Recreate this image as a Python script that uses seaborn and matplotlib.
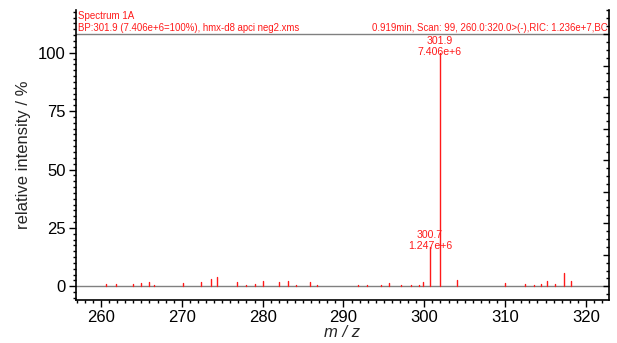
import numpy as np
import pandas as pd
import matplotlib
matplotlib.use("Agg")
import matplotlib.pyplot as plt
from matplotlib.ticker import MultipleLocator, NullFormatter
import seaborn as sns

# Centroided peaks: m/z and relative intensity (% of base peak)
mz = [260.6, 261.8, 262.9, 263.9, 265.0, 265.9, 266.6, 270.1, 271.2, 272.4,
      273.6, 274.3, 276.8, 278.0, 279.1, 280.0, 282.0, 283.1, 284.1, 285.8,
      286.7, 289.2, 291.8, 292.9, 294.7, 295.6, 297.1, 298.3, 299.3, 299.9,
      300.7, 301.9, 304.1, 307.1, 308.3, 310.0, 311.2, 312.4, 313.6, 314.5,
      315.2, 316.2, 317.3, 318.1]
rel = [1.0, 1.1, 0.3, 1.0, 1.3, 1.7, 0.5, 1.6, 0.3, 2.0,
       3.0, 4.2, 1.7, 0.7, 0.8, 2.3, 1.7, 2.3, 0.4, 2.0,
       0.7, 0.2, 0.4, 0.5, 0.6, 1.4, 0.6, 0.6, 0.6, 1.7,
       16.84, 100.0, 2.6, 0.3, 0.3, 1.6, 0.2, 0.9, 0.6, 0.9,
       2.4, 1.1, 5.5, 2.2]

# Labelled peaks
label_mz = [300.7, 301.9]
label_rel = [16.84, 100.0]
label_abs = ["1.247e+6", "7.406e+6"]

base_abs = 7.406e6
header_left = ["Spectrum 1A", "BP:301.9 (7.406e+6=100%), hmx-d8 apci neg2.xms"]
header_right = "0.919min, Scan: 99, 260.0:320.0>(-),RIC: 1.236e+7,BC"

x_ticks = [260, 270, 280, 290, 300, 310, 320]
y_ticks = [0, 25, 50, 75, 100]

RED = "#ff1a1a"
GRAY = "#808080"

sns.set_theme(style="ticks")
plt.rcParams["font.family"] = ["Liberation Sans", "DejaVu Sans"]

# Each stick is a two-point line from the baseline to its intensity
peaks = pd.DataFrame({
    "peak": np.repeat(np.arange(len(mz)), 2),
    "mz": np.repeat(mz, 2),
    "rel": np.ravel([[0.0, r] for r in rel]),
})

fig = plt.figure(figsize=(6.17, 3.43), dpi=100)
ax = fig.add_axes([0.1224, 0.125, 0.8646, 0.846])

sns.lineplot(data=peaks, x="mz", y="rel", units="peak", estimator=None,
             sort=False, color=RED, lw=1.0, ax=ax, legend=False)

ax.set_xlim(256.85, 322.85)
ax.set_ylim(-5.9, 118.3)

ax.axhline(0, color=GRAY, lw=1.0, zorder=0)
ax.axhline(108.0, color=GRAY, lw=1.0, zorder=0)

for x, r, a in zip(label_mz, label_rel, label_abs):
    ax.annotate(a, xy=(x, r), xytext=(0, 1), textcoords="offset pixels",
                ha="center", va="center", color=RED, fontsize=7.6)
    ax.annotate(f"{x:.1f}", xy=(x, r), xytext=(0, 12), textcoords="offset pixels",
                ha="center", va="center", color=RED, fontsize=7.6)

ax.text(0.004, 114.3, header_left[0], transform=ax.get_yaxis_transform(),
        ha="left", va="baseline", color=RED, fontsize=7.0)
ax.text(0.004, 109.3, header_left[1], transform=ax.get_yaxis_transform(),
        ha="left", va="baseline", color=RED, fontsize=6.9)
ax.text(0.997, 109.3, header_right, transform=ax.get_yaxis_transform(),
        ha="right", va="baseline", color=RED, fontsize=6.9)

ax.set_xticks(x_ticks)
ax.set_yticks(y_ticks)
ax.xaxis.set_minor_locator(MultipleLocator(1))
ax.yaxis.set_minor_locator(MultipleLocator(2.5))
ax.tick_params(axis="both", which="major", direction="out", length=5, width=1,
               labelsize=12, color="black", labelcolor="black", pad=2)
ax.tick_params(axis="both", which="minor", direction="out", length=2.5, width=1,
               color="black")

ax.set_xlabel("m / z", fontsize=12, style="italic", labelpad=0)
ax.set_ylabel("relative intensity / %", fontsize=12, labelpad=5)

for side in ["left", "bottom", "right"]:
    ax.spines[side].set_color("black")
    ax.spines[side].set_linewidth(1.2)
ax.spines["top"].set_visible(False)

# Absolute-intensity scale on the right spine (ticks only)
ax2 = ax.twinx()
lo, hi = ax.get_ylim()
ax2.set_ylim(lo * base_abs / 100, hi * base_abs / 100)
ax2.yaxis.set_major_locator(MultipleLocator(1e6))
ax2.yaxis.set_minor_locator(MultipleLocator(2.5e5))
ax2.yaxis.set_major_formatter(NullFormatter())
ax2.tick_params(axis="y", which="major", direction="in", length=4, width=1, color="black")
ax2.tick_params(axis="y", which="minor", direction="in", length=2, width=1, color="black")
for s in ax2.spines.values():
    s.set_visible(False)
ax2.grid(False)

fig.savefig("out.png", dpi=100)
